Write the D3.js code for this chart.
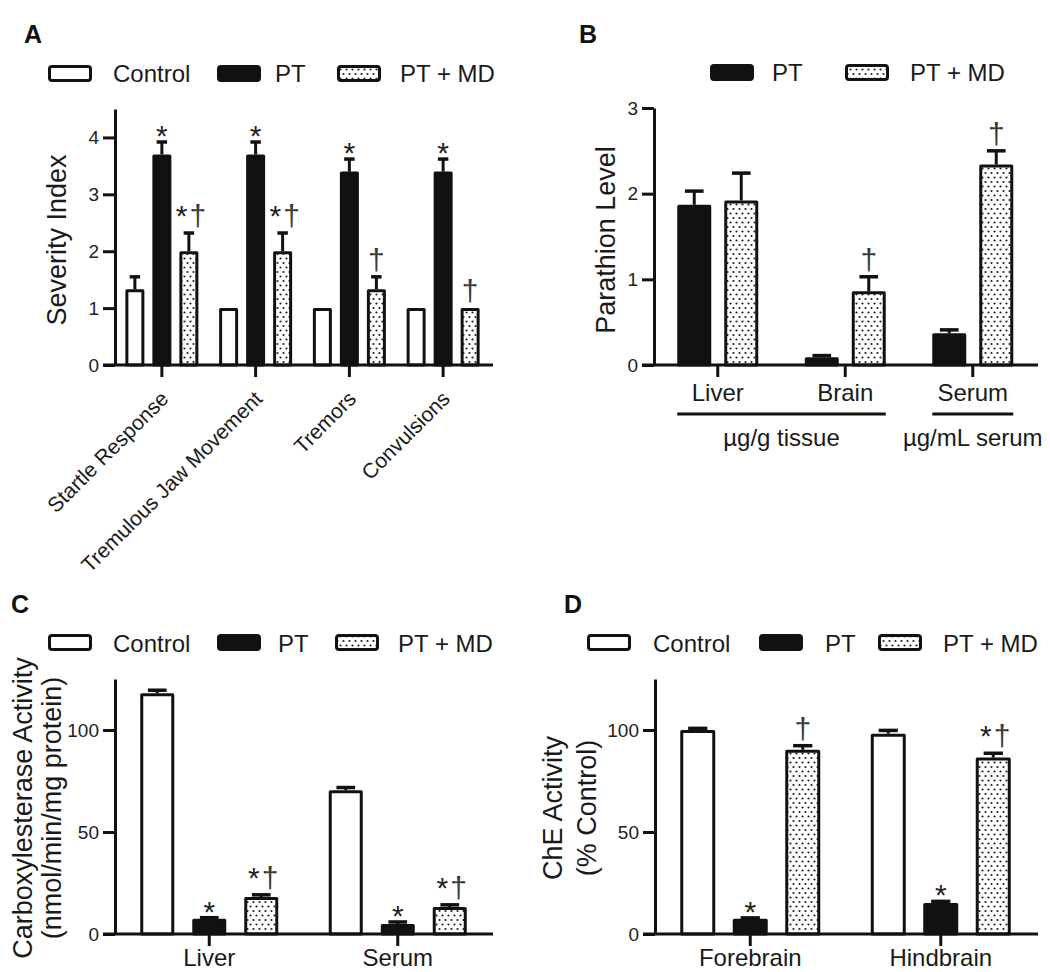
<!DOCTYPE html>
<html><head><meta charset="utf-8">
<script src="https://cdn.jsdelivr.net/npm/d3@7"></script>
<style>
html,body{margin:0;padding:0;background:#fff;}
svg{display:block;font-family:"Liberation Sans",Arial,sans-serif;}
</style></head><body>
<svg id="chart" width="1050" height="972"></svg>
<script>
// ================= DATA =================
// Panel A : behavioural severity
const categoriesA = ["Startle Response", "Tremulous Jaw Movement", "Tremors", "Convulsions"];
const controlA    = [1.33, 1, 1, 1];
const controlErrA = [0.22, 0, 0, 0];
const ptA         = [3.7, 3.7, 3.4, 3.4];
const ptErrA      = [0.22, 0.22, 0.22, 0.22];
const ptmdA       = [2.0, 2.0, 1.33, 1.0];
const ptmdErrA    = [0.32, 0.32, 0.22, 0];
const ptSigA      = ["*", "*", "*", "*"];
const ptmdSigA    = ["*†", "*†", "†", "†"];
const yTicksA     = [0, 1, 2, 3, 4];

// Panel B : parathion level
const categoriesB = ["Liver", "Brain", "Serum"];
const ptB         = [1.87, 0.09, 0.37];
const ptErrB      = [0.16, 0.02, 0.04];
const ptmdB       = [1.92, 0.86, 2.34];
const ptmdErrB    = [0.32, 0.17, 0.16];
const ptSigB      = ["", "", ""];
const ptmdSigB    = ["", "†", "†"];
const yTicksB     = [0, 1, 2, 3];
const unitGroupsB = [
  { label: "µg/g tissue", from: "Liver", to: "Brain" },
  { label: "µg/mL serum", from: "Serum", to: "Serum" }
];

// Panel C : carboxylesterase activity
const categoriesC = ["Liver", "Serum"];
const controlC    = [118, 70.5];
const controlErrC = [1.5, 1.3];
const ptC         = [7.5, 4.9];
const ptErrC      = [0.5, 1.0];
const ptmdC       = [18.1, 13.2];
const ptmdErrC    = [1.1, 1.1];
const ptSigC      = ["*", "*"];
const ptmdSigC    = ["*†", "*†"];
const yTicksC     = [0, 50, 100];

// Panel D : ChE activity
const categoriesD = ["Forebrain", "Hindbrain"];
const controlD    = [100, 98.2];
const controlErrD = [0.8, 1.6];
const ptD         = [7.5, 15.2];
const ptErrD      = [0.4, 0.8];
const ptmdD       = [90.3, 86.5];
const ptmdErrD    = [2.0, 2.1];
const ptSigD      = ["*", "*"];
const ptmdSigD    = ["†", "*†"];
const yTicksD     = [0, 50, 100];

const seriesNames = ["Control", "PT", "PT + MD"];

// ================= DRAWING =================
const svg = d3.select("#chart");
const INK = "#111";
const defs = svg.append("defs");
const pat = defs.append("pattern").attr("id", "dots")
  .attr("patternUnits", "userSpaceOnUse").attr("width", 6).attr("height", 9);
pat.append("rect").attr("width", 6).attr("height", 9).attr("fill", "#fff");
pat.append("circle").attr("cx", 1.5).attr("cy", 2).attr("r", 1.1).attr("fill", "#222");
pat.append("circle").attr("cx", 4.5).attr("cy", 6.5).attr("r", 1.1).attr("fill", "#222");

const fillOf = { "Control": "#fff", "PT": INK, "PT + MD": "url(#dots)" };

function drawLegend(items, top, baseline) {
  const g = svg.append("g");
  items.forEach(it => {
    g.append("rect").attr("x", it.rx + 1.5).attr("y", top + 1.5)
      .attr("width", 41).attr("height", 14).attr("rx", 2.5)
      .attr("fill", fillOf[it.name]).attr("stroke", INK).attr("stroke-width", 3);
    g.append("text").attr("x", it.tx).attr("y", baseline)
      .attr("font-size", 24).attr("fill", "#1a1a1a").text(it.name);
  });
}

function drawPanel(cfg) {
  const g = svg.append("g");
  const y = d3.scaleLinear().domain(cfg.yDomain).range([cfg.yBottom, cfg.yTop]);
  const x = d3.scaleBand().domain(cfg.categories).range([cfg.xLeft, cfg.xBandEnd]);
  const n = cfg.series.length;
  const gap = cfg.step - cfg.barW;
  const half = (n * cfg.step - gap) / 2;
  const xs = d3.scaleBand().domain(cfg.series.map(s => s.name))
    .range([-half, half]).paddingInner(gap / cfg.step);
  const cx = (c, name) => x(c) + x.bandwidth() / 2 + xs(name) + xs.bandwidth() / 2;
  const capW = cfg.barW * 0.55;

  cfg.series.forEach(s => {
    const data = cfg.categories.map((c, i) => ({
      c, v: s.values[i], e: s.errors[i], sig: s.sig[i]
    }));
    const sg = g.append("g");
    // error bars (upper only)
    const eb = sg.selectAll("g.err").data(data.filter(d => d.e > 0)).join("g").attr("class", "err");
    eb.append("line")
      .attr("x1", d => cx(d.c, s.name)).attr("x2", d => cx(d.c, s.name))
      .attr("y1", d => y(d.v)).attr("y2", d => y(d.v + d.e))
      .attr("stroke", INK).attr("stroke-width", 3);
    eb.append("line")
      .attr("x1", d => cx(d.c, s.name) - capW / 2).attr("x2", d => cx(d.c, s.name) + capW / 2)
      .attr("y1", d => y(d.v + d.e)).attr("y2", d => y(d.v + d.e))
      .attr("stroke", INK).attr("stroke-width", 3.5);
    // bars
    sg.selectAll("rect").data(data).join("rect")
      .attr("x", d => cx(d.c, s.name) - xs.bandwidth() / 2 + 1.5)
      .attr("width", xs.bandwidth() - 3)
      .attr("y", d => y(d.v) + 1.5)
      .attr("height", d => Math.max(0.5, y(0) - y(d.v) - 1.5))
      .attr("fill", fillOf[s.name]).attr("stroke", INK).attr("stroke-width", 3)
      .attr("stroke-linejoin", "round");
    // significance marks
    const tx = sg.selectAll("text.sig").data(data.filter(d => d.sig)).join("text")
      .attr("class", "sig")
      .attr("x", d => cx(d.c, s.name) + (d.sig.length > 1 ? 2 : 0))
      .attr("y", d => y(d.v + d.e) + (d.sig.includes("†") ? -7 : 4))
      .attr("text-anchor", "middle").attr("font-size", 30);
    tx.each(function (d) {
      const t = d3.select(this);
      [...d.sig].forEach((ch, k) => {
        t.append("tspan").attr("dx", k > 0 ? 2 : 0)
          .attr("fill", ch === "†" ? "#3a3a3a" : "#222").text(ch);
      });
    });
  });

  // y axis
  const ay = g.append("g").attr("transform", `translate(${cfg.xLeft},0)`)
    .call(d3.axisLeft(y).tickValues(cfg.yTicks).tickSize(12).tickSizeOuter(0)
      .tickPadding(4).tickFormat(d3.format("d")));
  ay.attr("font-family", null).attr("font-size", 19);
  ay.select(".domain").attr("stroke", INK).attr("stroke-width", 3);
  ay.selectAll(".tick line").attr("stroke", INK).attr("stroke-width", 3);
  ay.selectAll(".tick text").attr("fill", "#222");

  // x axis
  const ax = g.append("g").attr("transform", `translate(0,${cfg.yBottom})`)
    .call(d3.axisBottom(x).tickSize(12).tickSizeOuter(0).tickPadding(cfg.xPad));
  ax.attr("font-family", null).attr("font-size", cfg.xFont);
  ax.select(".domain").remove();
  ax.selectAll(".tick line").attr("stroke", INK).attr("stroke-width", 3);
  ax.selectAll(".tick text").attr("fill", "#1a1a1a");
  if (cfg.rotateX) {
    ax.selectAll(".tick text").attr("x", 0).attr("y", 0).attr("dy", 0)
      .attr("text-anchor", "end").attr("transform", "translate(8,35) rotate(-45)");
  }
  g.append("line").attr("x1", cfg.xLeft - 12).attr("x2", cfg.xAxisEnd)
    .attr("y1", y(0)).attr("y2", y(0)).attr("stroke", INK).attr("stroke-width", 3);

  // y label(s)
  cfg.yLabels.forEach(l => {
    g.append("text").attr("transform", `translate(${l.x},${cfg.yLabelCenter}) rotate(-90)`)
      .attr("text-anchor", "middle").attr("font-size", 27).attr("fill", "#1a1a1a").text(l.text);
  });

  // optional unit groups
  if (cfg.groups) {
    cfg.groups.forEach(gr => {
      const x1 = x(gr.from) + x.bandwidth() / 2 - half;
      const x2 = x(gr.to) + x.bandwidth() / 2 + half;
      g.append("line").attr("x1", x1).attr("x2", x2).attr("y1", cfg.groupLineY).attr("y2", cfg.groupLineY)
        .attr("stroke", INK).attr("stroke-width", 3);
      g.append("text").attr("x", (x1 + x2) / 2).attr("y", cfg.groupTextY)
        .attr("text-anchor", "middle").attr("font-size", 24).attr("fill", "#1a1a1a").text(gr.label);
    });
  }

  // panel letter
  svg.append("text").attr("x", cfg.letterX).attr("y", cfg.letterY)
    .attr("font-size", 25).attr("font-weight", "bold").attr("fill", "#111").text(cfg.letter);
}

// ---- Panel A
drawPanel({
  letter: "A", letterX: 24, letterY: 43,
  categories: categoriesA,
  series: [
    { name: seriesNames[0], values: controlA, errors: controlErrA, sig: ["", "", "", ""] },
    { name: seriesNames[1], values: ptA, errors: ptErrA, sig: ptSigA },
    { name: seriesNames[2], values: ptmdA, errors: ptmdErrA, sig: ptmdSigA }
  ],
  yDomain: [0, 4.5], yTicks: yTicksA, yBottom: 365, yTop: 109,
  xLeft: 115, xBandEnd: 490, xAxisEnd: 493, step: 27, barW: 19,
  xFont: 21, xPad: 7, rotateX: true,
  yLabels: [{ text: "Severity Index", x: 66 }], yLabelCenter: 240
});
drawLegend([
  { name: "Control", rx: 48, tx: 113 },
  { name: "PT", rx: 217, tx: 275 },
  { name: "PT + MD", rx: 337, tx: 400 }
], 65, 82);

// ---- Panel B
drawPanel({
  letter: "B", letterX: 579, letterY: 43,
  categories: categoriesB,
  series: [
    { name: seriesNames[1], values: ptB, errors: ptErrB, sig: ptSigB },
    { name: seriesNames[2], values: ptmdB, errors: ptmdErrB, sig: ptmdSigB }
  ],
  yDomain: [0, 3], yTicks: yTicksB, yBottom: 365, yTop: 108,
  xLeft: 654, xBandEnd: 1036.5, xAxisEnd: 1038, step: 47, barW: 34,
  xFont: 24, xPad: 7, rotateX: false,
  yLabels: [{ text: "Parathion Level", x: 615 }], yLabelCenter: 240,
  groups: unitGroupsB, groupLineY: 414, groupTextY: 446
});
drawLegend([
  { name: "PT", rx: 710, tx: 772 },
  { name: "PT + MD", rx: 845, tx: 910 }
], 64, 81);

// ---- Panel C
drawPanel({
  letter: "C", letterX: 11, letterY: 613,
  categories: categoriesC,
  series: [
    { name: seriesNames[0], values: controlC, errors: controlErrC, sig: ["", ""] },
    { name: seriesNames[1], values: ptC, errors: ptErrC, sig: ptSigC },
    { name: seriesNames[2], values: ptmdC, errors: ptmdErrC, sig: ptmdSigC }
  ],
  yDomain: [0, 125], yTicks: yTicksC, yBottom: 934, yTop: 679,
  xLeft: 115, xBandEnd: 492, xAxisEnd: 493, step: 52, barW: 34,
  xFont: 24, xPad: 3, rotateX: false,
  yLabels: [{ text: "Carboxylesterase Activity", x: 32 }, { text: "(nmol/min/mg protein)", x: 61 }],
  yLabelCenter: 808
});
drawLegend([
  { name: "Control", rx: 48, tx: 113 },
  { name: "PT", rx: 217, tx: 278 },
  { name: "PT + MD", rx: 335, tx: 398 }
], 634, 652);

// ---- Panel D
drawPanel({
  letter: "D", letterX: 564, letterY: 613,
  categories: categoriesD,
  series: [
    { name: seriesNames[0], values: controlD, errors: controlErrD, sig: ["", ""] },
    { name: seriesNames[1], values: ptD, errors: ptErrD, sig: ptSigD },
    { name: seriesNames[2], values: ptmdD, errors: ptmdErrD, sig: ptmdSigD }
  ],
  yDomain: [0, 125], yTicks: yTicksD, yBottom: 934, yTop: 679,
  xLeft: 655, xBandEnd: 1036, xAxisEnd: 1038, step: 52.5, barW: 35,
  xFont: 24, xPad: 3, rotateX: false,
  yLabels: [{ text: "ChE Activity", x: 562 }, { text: "(% Control)", x: 596 }],
  yLabelCenter: 808
});
drawLegend([
  { name: "Control", rx: 587, tx: 653 },
  { name: "PT", rx: 759, tx: 825 },
  { name: "PT + MD", rx: 878, tx: 943 }
], 634, 652);
</script>
</body></html>
